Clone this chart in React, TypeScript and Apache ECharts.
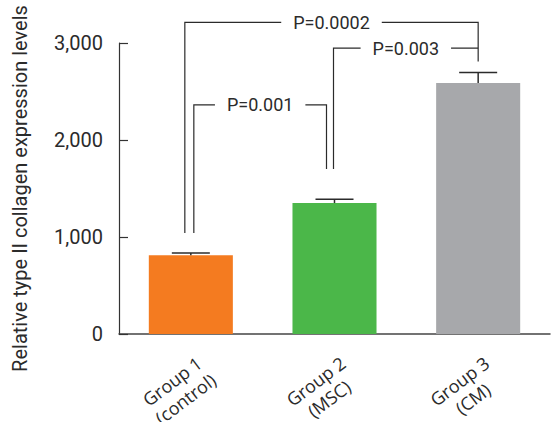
import React, { useEffect, useRef } from "react";
import * as echarts from "echarts";

const categories = ["Group 1\n(control)", "Group 2\n(MSC)", "Group 3\n(CM)"];
const means = [813, 1350, 2587];
const errors = [21, 40, 109];
const yTicks = [0, 1000, 2000, 3000];

// significance brackets (group indices and heights in value units)
const bracketFrom = [0, 1, 0];
const bracketTo = [1, 2, 2];
const bracketLevel = [2363, 2948, 3213];
const bracketLeftEnd = [1040, 1701, 1040];
const bracketRightEnd = [1701, 2948, 2810];
const bracketLabels = ["P=0.001", "P=0.003", "P=0.0002"];

// styles
const barColors = ["#F47B20", "#4BB749", "#A7A8AB"];
const legOffsets = [
  [3, -8],
  [-1, 0],
  [-6, 0],
];
const INK = "#2b2b2b";

export default function App() {
  const ref = useRef<HTMLDivElement>(null);
  useEffect(() => {
    if (!ref.current) return;
    const chart = echarts.init(ref.current, null, { renderer: "svg" });
    const option: any = {
      animation: false,
      grid: { left: 119, right: 4, top: 43, bottom: 88, outerBoundsMode: "none", containLabel: false },
      xAxis: {
        type: "category",
        data: categories,
        axisTick: { show: false },
        axisLine: { lineStyle: { color: "#444", width: 1.5 } },
        axisLabel: {
          interval: 0,
          rotate: 37,
          margin: 8,
          align: "center",
          verticalAlign: "top",
          padding: [9, 77, 0, 0],
          fontFamily: "Open Sans",
          fontSize: 18,
          lineHeight: 22,
          color: INK,
        },
      },
      yAxis: {
        type: "value",
        min: yTicks[0],
        max: yTicks[yTicks.length - 1],
        interval: 1000,
        name: "Relative type II collagen expression levels",
        nameLocation: "middle",
        nameGap: 89,
        nameMoveOverlap: false,
        nameTextStyle: { fontFamily: "Roboto", fontSize: 20, color: INK },
        axisLine: { show: true, lineStyle: { color: "#333", width: 1.2 } },
        axisTick: { show: true, inside: true, length: 9, lineStyle: { color: "#333", width: 1.2 } },
        splitLine: { show: false },
        axisLabel: {
          margin: 16,
          fontFamily: "Roboto",
          fontSize: 20,
          color: INK,
          formatter: (v: number) => v.toLocaleString("en-US"),
        },
      },
      series: [
        {
          type: "bar",
          barWidth: "58.5%",
          data: means.map((v, i) => ({ value: v, itemStyle: { color: barColors[i] } })),
          z: 2,
        },
        {
          type: "custom",
          z: 3,
          data: means.map((m, i) => [i, m, m + errors[i]]),
          renderItem: (params: any, api: any) => {
            const i = api.value(0);
            const base = api.coord([i, api.value(1)]);
            const top = api.coord([i, api.value(2)]);
            const half = 19;
            return {
              type: "group",
              children: [
                {
                  type: "line",
                  shape: { x1: base[0], y1: base[1], x2: top[0], y2: top[1] },
                  style: { stroke: INK, lineWidth: 1.5 },
                },
                {
                  type: "line",
                  shape: { x1: top[0] - half, y1: top[1], x2: top[0] + half, y2: top[1] },
                  style: { stroke: INK, lineWidth: 1.5 },
                },
              ],
            };
          },
        },
        {
          type: "custom",
          z: 4,
          clip: false,
          data: bracketLabels.map((_, i) => [
            bracketFrom[i],
            bracketLevel[i],
            bracketTo[i],
            bracketLeftEnd[i],
            bracketRightEnd[i],
            i,
          ]),
          renderItem: (params: any, api: any) => {
            const i = api.value(5);
            const off = legOffsets[i];
            const pL = api.coord([api.value(0), api.value(1)]);
            const pR = api.coord([api.value(2), api.value(1)]);
            const yLB = api.coord([api.value(0), api.value(3)])[1];
            const yRB = api.coord([api.value(2), api.value(4)])[1];
            const x1 = pL[0] + off[0];
            const x2 = pR[0] + off[1];
            const y = pL[1];
            return {
              type: "group",
              children: [
                {
                  type: "polyline",
                  shape: {
                    points: [
                      [x1, yLB],
                      [x1, y],
                      [x2, y],
                      [x2, yRB],
                    ],
                  },
                  style: { stroke: INK, lineWidth: 1.2, fill: null },
                },
                {
                  type: "text",
                  x: (x1 + x2) / 2,
                  y: y,
                  style: {
                    text: bracketLabels[i],
                    font: "18px Roboto",
                    fill: INK,
                    align: "center",
                    verticalAlign: "middle",
                    backgroundColor: "#fff",
                    padding: [0, 12],
                  },
                },
              ],
            };
          },
        },
      ],
    };
    chart.setOption(option);
    return () => chart.dispose();
  }, []);
  return <div ref={ref} style={{ width: 554, height: 422, position: "absolute", left: 0, top: 0 }} />;
}
